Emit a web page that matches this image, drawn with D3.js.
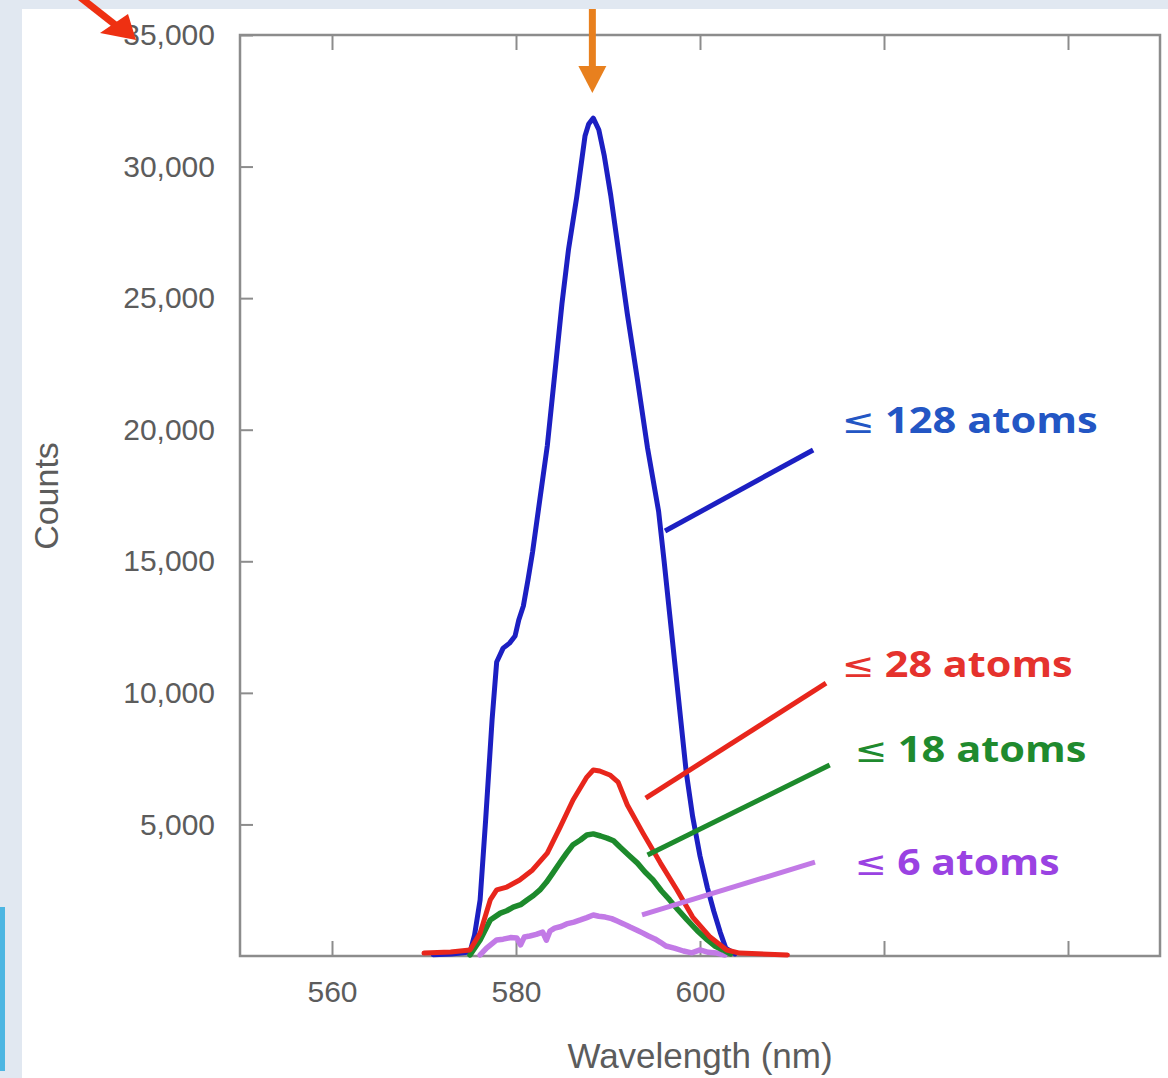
<!DOCTYPE html>
<html>
<head>
<meta charset="utf-8">
<script src="https://cdn.jsdelivr.net/npm/d3@7"></script>
<style>
  html, body { margin: 0; padding: 0; background: #e1e8f1; }
  svg { display: block; }
</style>
</head>
<body>
<svg id="chart" width="1168" height="1078"></svg>
<script>
// Emission spectra of silver clusters, one series per cluster size
const blueNm = [571, 573, 575.0, 575.5, 576.1, 576.7, 577.4, 577.9, 578.6, 579.3, 579.9, 580.3, 580.8, 581.3, 581.8, 582.6, 583.4, 584.2, 585.0, 585.7, 586.6, 587.5, 587.9, 588.4, 589.0, 589.6, 590.3, 591.1, 592.1, 593.2, 594.3, 595.5, 596.1, 596.7, 597.3, 597.9, 598.5, 599.2, 600.0, 600.8, 601.5, 602.2, 602.8, 603.8];
const blueCounts = [50, 80, 150, 800, 2130, 5170, 8970, 11170, 11700, 11890, 12160, 12770, 13300, 14290, 15350, 17370, 19380, 22080, 24810, 26830, 28840, 31160, 31620, 31840, 31400, 30400, 28900, 26900, 24400, 21900, 19300, 16900, 15000, 13000, 11000, 9000, 7000, 5300, 3800, 2600, 1700, 900, 300, 80];

const redNm = [570.0, 572.9, 575.0, 576.1, 577.2, 577.9, 579.0, 580.4, 581.8, 583.4, 584.8, 586.2, 587.7, 588.4, 589.1, 590.2, 591.1, 592.1, 593.8, 595.7, 597.5, 599.2, 601.1, 602.9, 604.3, 609.5];
const redCounts = [110, 150, 230, 870, 2130, 2510, 2620, 2890, 3270, 3910, 4900, 5930, 6800, 7070, 7030, 6880, 6610, 5740, 4670, 3530, 2510, 1480, 720, 230, 110, 40];

const greenNm = [575.0, 576.1, 577.2, 578.3, 579.0, 579.7, 580.5, 581.2, 581.9, 582.6, 583.3, 584.0, 584.8, 585.5, 586.2, 587.0, 587.7, 588.4, 589.2, 589.9, 590.6, 591.3, 592.2, 593.2, 594.0, 594.9, 595.8, 596.7, 597.6, 598.6, 599.7, 600.8, 601.6, 602.5, 603.3];
const greenCounts = [40, 610, 1370, 1630, 1720, 1860, 1950, 2130, 2300, 2510, 2800, 3150, 3560, 3910, 4230, 4410, 4600, 4640, 4560, 4480, 4380, 4140, 3850, 3530, 3200, 2890, 2480, 2130, 1760, 1370, 960, 610, 380, 230, 80];

const violetNm = [576.1, 576.8, 577.9, 578.6, 579.4, 580.1, 580.5, 580.9, 581.5, 582.2, 582.9, 583.3, 583.7, 584.2, 584.9, 585.5, 586.3, 587.0, 587.7, 588.4, 589.0, 589.7, 590.4, 591.0, 591.7, 592.4, 593.1, 593.8, 594.4, 595.1, 595.7, 596.3, 597.2, 598.2, 599.1, 600.0, 600.9, 601.8, 602.7];
const violetCounts = [40, 300, 610, 640, 700, 680, 420, 720, 760, 820, 910, 600, 950, 1060, 1120, 1220, 1290, 1370, 1460, 1560, 1510, 1480, 1420, 1330, 1220, 1100, 990, 870, 760, 650, 520, 380, 300, 190, 120, 230, 140, 110, 40];

const xTicks = [560, 580, 600, 620, 640];
const xTickLabels = ["560", "580", "600"];
const yTicks = [5000, 10000, 15000, 20000, 25000, 30000, 35000];

const seriesNames = ["128 atoms", "28 atoms", "18 atoms", "6 atoms"];

const W = 1168, H = 1078;
const plot = { left: 240, right: 1160, top: 35, bottom: 956 };

const svg = d3.select("#chart");

// page background and white slide panel
svg.append("rect").attr("width", W).attr("height", H).attr("fill", "#e1e8f1");
svg.append("rect").attr("x", 0).attr("y", 907).attr("width", 5).attr("height", 164).attr("fill", "#4db6e2");
svg.append("rect").attr("x", 22).attr("y", 9).attr("width", W - 22).attr("height", H - 9).attr("fill", "#ffffff");

const x = d3.scaleLinear().domain([550, 650]).range([plot.left, plot.right]);
const y = d3.scaleLinear().domain([0, 35000]).range([plot.bottom, plot.top]);

const axisColor = "#8c8c8c";
const textColor = "#5c5c5c";
const tickFont = "Liberation Sans, Arial, sans-serif";

// left axis with inward ticks
const gy = svg.append("g")
  .attr("transform", `translate(${plot.left},0)`)
  .call(d3.axisLeft(y).tickValues(yTicks).tickSizeInner(-13).tickSizeOuter(0)
    .tickPadding(25).tickFormat(d3.format(",")));
gy.select(".domain").remove();
gy.selectAll(".tick line").attr("stroke", axisColor).attr("stroke-width", 2);
gy.selectAll(".tick text").attr("fill", textColor).attr("font-size", 30).attr("font-family", tickFont);

// bottom axis
const gx = svg.append("g")
  .attr("transform", `translate(0,${plot.bottom})`)
  .call(d3.axisBottom(x).tickValues(xTicks).tickSizeInner(-15).tickSizeOuter(0)
    .tickPadding(25).tickFormat(d => xTickLabels.includes(String(d)) ? String(d) : ""));
gx.select(".domain").remove();
gx.selectAll(".tick line").attr("stroke", axisColor).attr("stroke-width", 2);
gx.selectAll(".tick text").attr("fill", textColor).attr("font-size", 30).attr("font-family", tickFont);

// top axis, ticks only
const gt = svg.append("g")
  .attr("transform", `translate(0,${plot.top})`)
  .call(d3.axisTop(x).tickValues(xTicks).tickSizeInner(-15).tickSizeOuter(0).tickFormat(""));
gt.select(".domain").remove();
gt.selectAll(".tick line").attr("stroke", axisColor).attr("stroke-width", 2);

// frame
svg.append("rect")
  .attr("x", plot.left).attr("y", plot.top)
  .attr("width", plot.right - plot.left).attr("height", plot.bottom - plot.top)
  .attr("fill", "none").attr("stroke", axisColor).attr("stroke-width", 2.5);

// axis titles
svg.append("text")
  .attr("x", x(600)).attr("y", 1068)
  .attr("text-anchor", "middle").attr("fill", textColor)
  .attr("font-size", 35).attr("font-family", tickFont)
  .text("Wavelength (nm)");
svg.append("text")
  .attr("transform", "translate(58,496) rotate(-90)")
  .attr("text-anchor", "middle").attr("fill", textColor)
  .attr("font-size", 34).attr("font-family", tickFont)
  .text("Counts");

// spectra
const line = d3.line().x(d => x(d[0])).y(d => y(d[1]));
const zip = (a, b) => a.map((v, i) => [v, b[i]]);
const spectra = [
  { nm: blueNm, counts: blueCounts, color: "#1c1fc2", width: 5 },
  { nm: violetNm, counts: violetCounts, color: "#c27ae6", width: 5.5 },
  { nm: greenNm, counts: greenCounts, color: "#1d8a2c", width: 5.5 },
  { nm: redNm, counts: redCounts, color: "#e8261c", width: 5 }
];
svg.append("g").selectAll("path").data(spectra).join("path")
  .attr("d", s => line(zip(s.nm, s.counts)))
  .attr("fill", "none")
  .attr("stroke", s => s.color)
  .attr("stroke-width", s => s.width)
  .attr("stroke-linejoin", "round")
  .attr("stroke-linecap", "round");

// callouts: leader line from curve to label
const callouts = [
  { name: seriesNames[0], from: [596.2, 16150], to: [612.3, 19230], at: [615.4, 19870], len: 256, line: "#1c1fc2", text: "#2356c4" },
  { name: seriesNames[1], from: [594.1, 6000], to: [613.7, 10370], at: [615.4, 10600], len: 231, line: "#e8261c", text: "#e5322d" },
  { name: seriesNames[2], from: [594.3, 3840], to: [614.1, 7260], at: [616.8, 7370], len: 232, line: "#1d8a2c", text: "#1f8a2e" },
  { name: seriesNames[3], from: [593.7, 1560], to: [612.5, 3570], at: [616.8, 3080], len: 205, line: "#c27ae6", text: "#9a42e2" }
];
const cg = svg.append("g");
cg.selectAll("line").data(callouts).join("line")
  .attr("x1", d => x(d.from[0])).attr("y1", d => y(d.from[1]))
  .attr("x2", d => x(d.to[0])).attr("y2", d => y(d.to[1]))
  .attr("stroke", d => d.line).attr("stroke-width", 5);
const labels = cg.selectAll("text").data(callouts).join("text")
  .attr("x", d => x(d.at[0])).attr("y", d => y(d.at[1]))
  .attr("fill", d => d.text)
  .attr("font-family", "'Open Sans', Lato, sans-serif")
  .attr("font-weight", 700)
  .attr("font-size", 36)
  .attr("textLength", d => d.len)
  .attr("lengthAdjust", "spacingAndGlyphs");
labels.append("tspan")
  .attr("font-family", "'DejaVu Sans', sans-serif")
  .attr("font-weight", 400)
  .attr("font-size", 34)
  .text("≤");
labels.append("tspan").attr("dx", 9).text(d => d.name);

// orange marker pointing at the peak
const peakX = x(588.3);
svg.append("line")
  .attr("x1", peakX).attr("x2", peakX).attr("y1", 9).attr("y2", 70)
  .attr("stroke", "#e8801e").attr("stroke-width", 7);
svg.append("path")
  .attr("d", `M${peakX - 14},66 L${peakX + 14},66 L${peakX},93 Z`)
  .attr("fill", "#e8801e");

// red pointer at the top tick label
svg.append("line")
  .attr("x1", 76).attr("y1", -6).attr("x2", 118).attr("y2", 27)
  .attr("stroke", "#ee3012").attr("stroke-width", 7);
svg.append("path")
  .attr("d", "M100,33 L128,14 L136,40 Z")
  .attr("fill", "#ee3012");
</script>
</body>
</html>
